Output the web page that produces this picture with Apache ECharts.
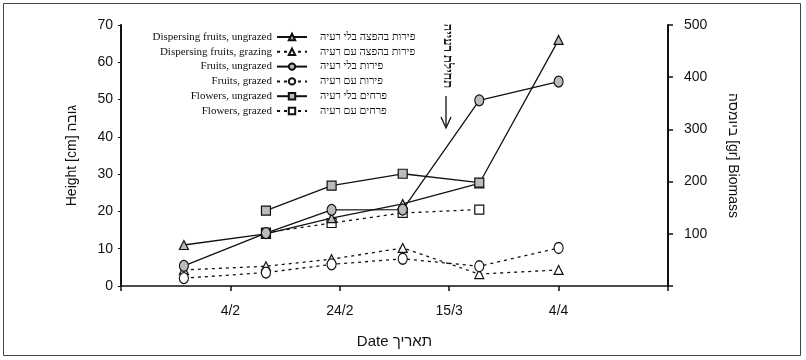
<!DOCTYPE html>
<html>
<head>
<meta charset="utf-8">
<script src="https://cdn.jsdelivr.net/npm/echarts@6/dist/echarts.min.js"></script>
<style>
html, body { margin: 0; padding: 0; background: #fff; }
#chart { width: 806px; height: 360px; }
</style>
</head>
<body>
<div id="chart"></div>
<script>
// x = day number counted from 15 Jan (4/2 is day 20)
const sampleDays = [11.5, 26.5, 38.5, 51.5, 65.5, 80];
const dateTicks = { 20: "4/2", 40: "24/2", 60: "15/3", 80: "4/4" };

// heights [cm]
const dispUngrazed = [11, 14, 18.2, 22, 27.5, 66];
const dispGrazed = [4.3, 5.3, 7.2, 10.2, 3.2, 4.3];
const fruitsUngrazed = [5.4, 14.2, 20.4, 20.5, 49.8, 54.8];
const fruitsGrazed = [2.1, 3.6, 5.8, 7.3, 5.3, 10.2];
const flowersUngrazed = [null, 20.2, 26.9, 30.1, 27.7, null];
const flowersGrazed = [null, 14.3, 16.9, 19.6, 20.5, null];

const namesEn = [
  "Dispersing fruits, ungrazed",
  "Dispersing fruits, grazing",
  "Fruits, ungrazed",
  "Fruits, grazed",
  "Flowers, ungrazed",
  "Flowers, grazed",
];
const namesHe = [
  "פירות בהפצה בלי רעיה",
  "פירות בהפצה עם רעיה",
  "פירות בלי רעיה",
  "פירות עם רעיה",
  "פרחים בלי רעיה",
  "פרחים עם רעיה",
];

const chart = echarts.init(document.getElementById("chart"));

function pts(vals) {
  const out = [];
  vals.forEach((v, i) => {
    if (v !== null) out.push([sampleDays[i], v]);
  });
  return out;
}

function makeSeries(name, vals, symbol, solid, fill) {
  return {
    name: name,
    type: "line",
    data: pts(vals),
    symbol: symbol,
    symbolSize: symbol === "circle" ? [9, 11] : 9,
    lineStyle: { color: "#111", width: 1.3, type: solid ? "solid" : [3, 4] },
    itemStyle: { color: fill, borderColor: "#111", borderWidth: 1.2 },
    z: solid ? 3 : 2,
  };
}

const legendTop = 31;
const rowPitch = 14.8;

const option = {
  animation: false,
  grid: { left: 121, right: 138, top: 25, bottom: 74 },
  legend: {
    orient: "vertical",
    left: 122,
    top: legendTop,
    padding: 0,
    align: "right",
    itemWidth: 30,
    itemHeight: 8,
    itemGap: 2.8,
    data: namesEn,
    formatter: (n) => "{a|" + n + "}",
    textStyle: {
      color: "#111",
      fontFamily: "Liberation Serif",
      fontSize: 11,
      rich: {
        a: { width: 150, height: 12, align: "right", fontFamily: "Liberation Serif", fontSize: 11, lineHeight: 12, color: "#111" },
      },
    },
  },
  xAxis: {
    type: "value",
    min: 0,
    max: 100,
    interval: 20,
    name: "Date תאריך",
    nameLocation: "middle",
    nameGap: 48,
    nameTextStyle: { fontFamily: "Liberation Sans", fontSize: 15, color: "#111" },
    axisLine: { lineStyle: { color: "#111", width: 1.5 } },
    axisTick: { length: 5, lineStyle: { color: "#111", width: 1.5 } },
    axisLabel: {
      margin: 18,
      fontFamily: "Liberation Sans",
      fontSize: 14,
      color: "#111",
      formatter: (v) => dateTicks[v] || "",
    },
    splitLine: { show: false },
  },
  yAxis: [
    {
      type: "value",
      min: 0,
      max: 70,
      interval: 10,
      name: "Height [cm] גובה",
      nameLocation: "middle",
      nameGap: 42,
      nameTextStyle: { fontFamily: "Liberation Sans", fontSize: 14, color: "#111" },
      axisLine: { show: true, lineStyle: { color: "#111", width: 2 } },
      axisTick: { show: true, length: 3, lineStyle: { color: "#111" } },
      axisLabel: { margin: 8, fontFamily: "Liberation Sans", fontSize: 14, color: "#111" },
      splitLine: { show: false },
    },
    {
      type: "value",
      min: 0,
      max: 500,
      interval: 100,
      position: "right",
      name: "ביומסה [gr] Biomass",
      nameLocation: "middle",
      nameRotate: -90,
      nameGap: 58,
      nameTextStyle: { fontFamily: "Liberation Sans", fontSize: 14, color: "#111" },
      axisLine: { show: true, lineStyle: { color: "#111", width: 2 } },
      axisTick: { show: true, length: 5, lineStyle: { color: "#111", width: 1.5 } },
      axisLabel: {
        margin: 16,
        fontFamily: "Liberation Sans",
        fontSize: 14,
        color: "#111",
        formatter: (v) => (v === 0 ? "" : v),
      },
      splitLine: { show: false },
    },
  ],
  series: [
    makeSeries(namesEn[0], dispUngrazed, "triangle", true, "#bbb"),
    makeSeries(namesEn[1], dispGrazed, "triangle", false, "#fff"),
    makeSeries(namesEn[2], fruitsUngrazed, "circle", true, "#bbb"),
    makeSeries(namesEn[3], fruitsGrazed, "circle", false, "#fff"),
    makeSeries(namesEn[4], flowersUngrazed, "rect", true, "#bbb"),
    makeSeries(namesEn[5], flowersGrazed, "rect", false, "#fff"),
  ],
  graphic: [
    {
      type: "rect",
      shape: { x: 3.5, y: 3.5, width: 797, height: 352 },
      style: { fill: "none", stroke: "#444", lineWidth: 1 },
      silent: true,
    },
    ...namesHe.map((t, i) => ({
      type: "text",
      x: 320,
      y: legendTop + 6 + i * rowPitch,
      style: {
        text: t,
        fontFamily: "Liberation Serif",
        fontSize: 11,
        fill: "#111",
        verticalAlign: "middle",
        align: "left",
      },
    })),
    {
      type: "text",
      x: 447,
      y: 56,
      rotation: -Math.PI / 2,
      style: {
        text: "תחילת רעייה",
        fontFamily: "Liberation Serif",
        fontSize: 13,
        fontWeight: "bold",
        fill: "#111",
        align: "center",
        verticalAlign: "middle",
      },
    },
    {
      type: "polyline",
      shape: { points: [[446, 96], [446, 127]] },
      style: { stroke: "#111", lineWidth: 1.3 },
    },
    {
      type: "polyline",
      shape: { points: [[441, 117], [446, 128], [451, 117]] },
      style: { stroke: "#111", lineWidth: 1.3, fill: "none" },
    },
  ],
};

chart.setOption(option);
</script>
</body>
</html>
